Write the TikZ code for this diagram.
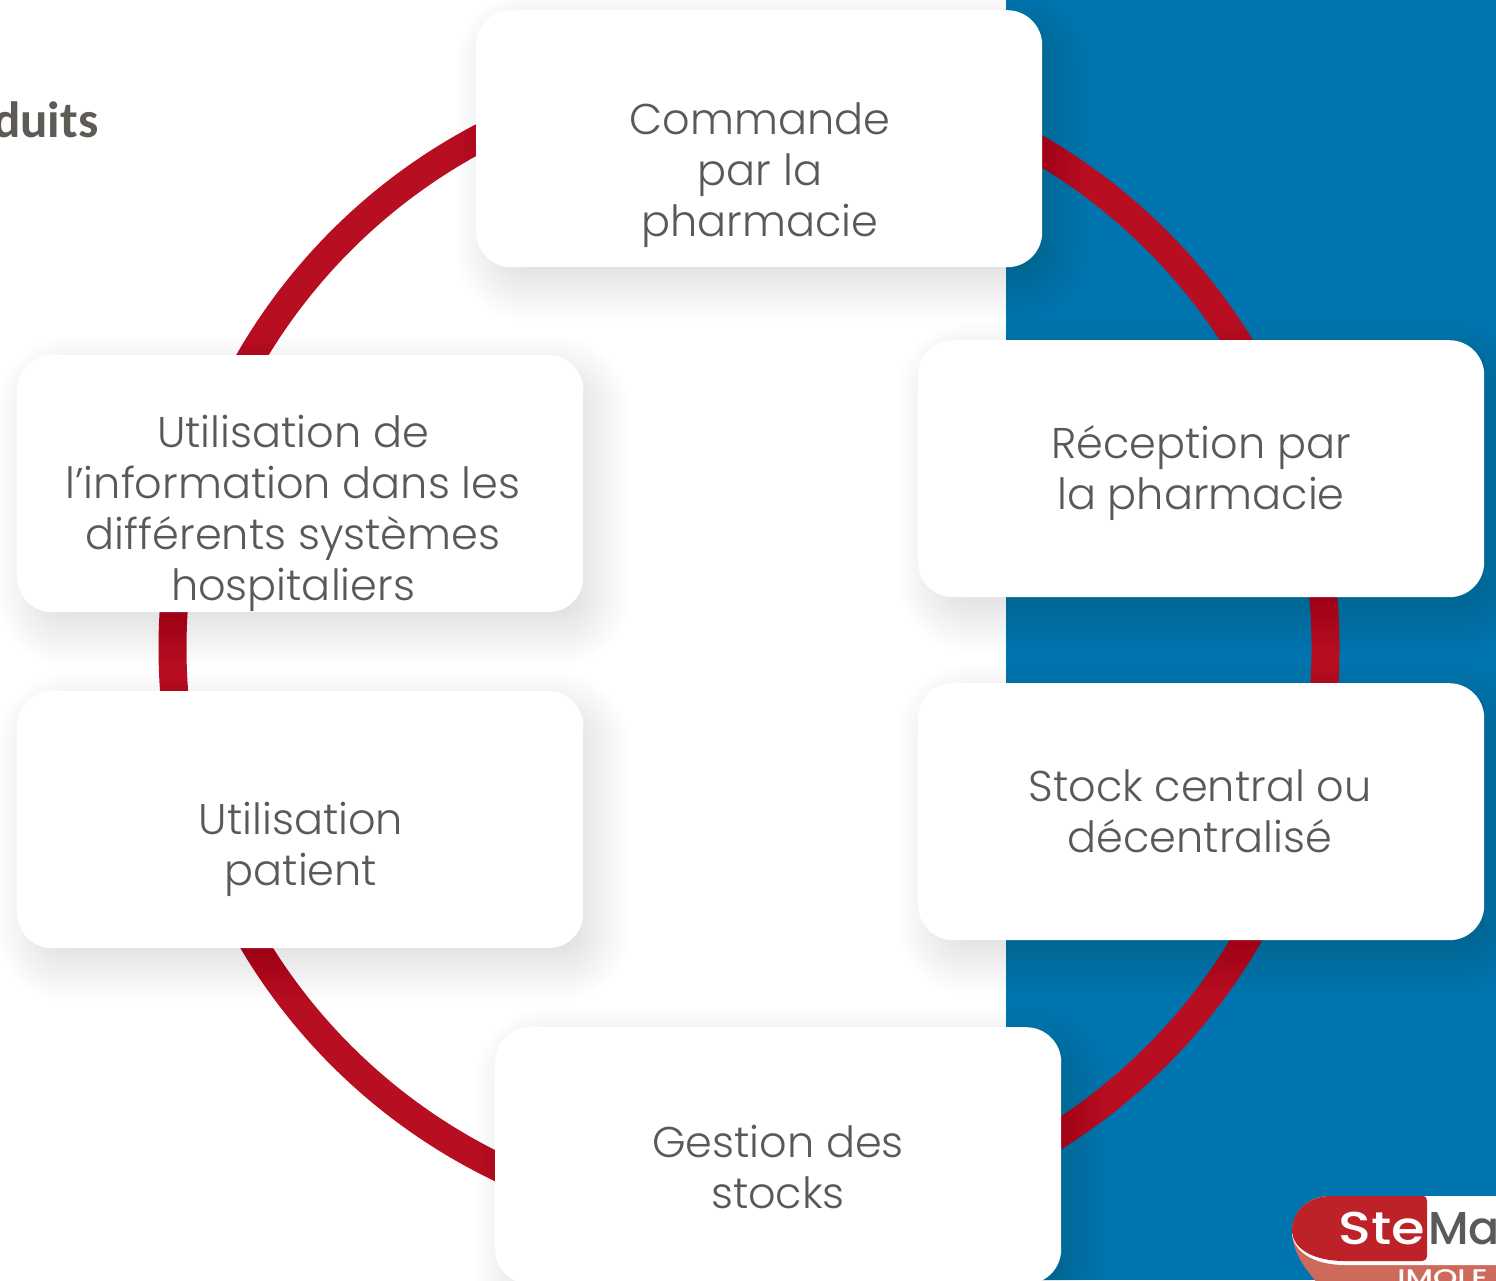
\documentclass[tikz,border=0pt]{standalone}
\usepackage{fontspec}
\setmainfont{Poppins}[UprightFont=* Light]
\newfontfamily\titlefont{Carlito}
\newfontfamily\logofont{Poppins}[UprightFont=* Medium]
\usepackage{pgffor}
\definecolor{bluebg}{HTML}{0074AE}
\definecolor{ringred}{HTML}{B80E22}
\definecolor{txtgrey}{HTML}{595959}
\definecolor{titlegrey}{HTML}{5E5A56}
\definecolor{logored}{HTML}{BE2229}
\definecolor{logopink}{HTML}{CD6A5C}
\definecolor{logogrey}{HTML}{5A5A5A}
\tikzset{
  x=1pt,y=-1pt,
  cardbox/.style={fill=white,draw=none,rounded corners=35pt,minimum width=566pt,minimum height=257pt,inner sep=0pt,anchor=north west},
  cardtext/.style={text=txtgrey,align=center,inner sep=0pt,font=\fontsize{43}{51}\selectfont},
  logotext/.style={anchor=base west,inner sep=0pt,transform shape},
}
% soft shadow made of stacked translucent rounded rectangles
\newcommand{\softshadow}[2]{%
  \foreach \d in {-22,-18,...,38}{%
    \pgfmathsetmacro{\rr}{max(4,35+\d)}%
    \fill[black,opacity=0.0085,rounded corners=\rr pt]
      (#1+18-\d,#2+20-\d) rectangle (#1+566+8+\d,#2+257+16+\d);
  }%
}
\begin{document}
\begin{tikzpicture}
\useasboundingbox (0,0) rectangle (1496,1280);
\clip (0,0) rectangle (1496,1280);
\fill[white] (0,0) rectangle (1496,1280);
\fill[bluebg] (1006,0) rectangle (1496,1280);
\draw[ringred,line width=28pt] (749,648) circle[radius=576.5];
\softshadow{476}{10}
\softshadow{918}{340}
\softshadow{918}{683}
\softshadow{495}{1027}
\softshadow{17}{355}
\softshadow{17}{691}
\node[cardbox] (cmd) at (476,10) {};
\node[cardbox] (rec) at (918,340) {};
\node[cardbox] (sto) at (918,683) {};
\node[cardbox] (ges) at (495,1027) {};
\node[cardbox] (uinfo) at (17,355) {};
\node[cardbox] (upat) at (17,691) {};
\node[cardtext] (tcmd) at (760,175) {Commande\\par la\\pharmacie};
\node[cardtext] (trec) at (1201,472.5) {Réception par\\la pharmacie};
\node[cardtext] (tsto) at (1200,811) {Stock central ou\\décentralisé};
\node[cardtext] (tges) at (778,1167) {Gestion des\\stocks};
\node[cardtext] (tuinfo) at (293,513) {Utilisation de\\l’information dans les\\différents systèmes\\hospitaliers};
\node[cardtext] (tupat) at (301,849) {Utilisation\\patient};
\node[text=titlegrey,anchor=base east,inner sep=0pt,font=\titlefont\bfseries\fontsize{51}{51}\selectfont] (title) at (98.5,137) {duits};
% logo
\fill[logopink] (1292,1235) .. controls (1296,1262) and (1310,1272) .. (1322,1290) -- (1500,1290) -- (1500,1240) -- cycle;
\fill[white] (1330,1196) -- (1500,1196) -- (1500,1265) -- (1345,1265) .. controls (1312,1265) and (1292,1250) .. (1292,1232) .. controls (1292,1210) and (1310,1196) .. (1330,1196) -- cycle;
\fill[logored] (1330,1196) -- (1422,1196) .. controls (1426,1196) and (1427,1198) .. (1427,1201) -- (1427,1255) .. controls (1427,1259) and (1425,1261) .. (1421,1261) -- (1345,1261) .. controls (1312,1261) and (1292,1248) .. (1292,1230) .. controls (1292,1210) and (1310,1196) .. (1330,1196) -- cycle;
\node[logotext,text=white,xscale=1.18,font=\logofont\fontsize{46}{46}\selectfont] (lste) at (1338,1244) {Ste};
\node[logotext,text=logogrey,xscale=1,font=\logofont\fontsize{46}{46}\selectfont] (lma) at (1428,1244) {Ma};
\node[logotext,text=white,xscale=1.3,font=\logofont\fontsize{24}{24}\selectfont] (limp) at (1397,1286) {IMOLE};
\end{tikzpicture}
\end{document}
